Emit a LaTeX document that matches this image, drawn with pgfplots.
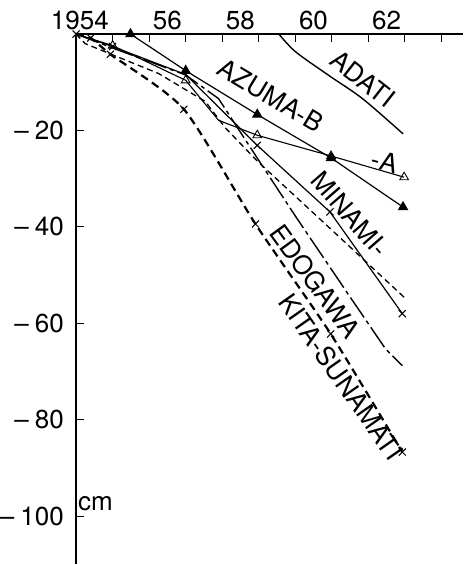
\documentclass[border=0pt]{standalone}
\usepackage{pgfplots}
\pgfplotsset{compat=1.18}
\usepackage{fontspec}
\setmainfont{TeX Gyre Heros}
\newcommand\lbl{\fontsize{26}{28}\selectfont}
\newcommand\mn{\textendash\hspace{6pt}}
\begin{document}
\begin{tikzpicture}
\begin{axis}[
  scale only axis,
  width=387pt, height=530pt,
  xmin=1954, xmax=1964.6,
  ymin=-110, ymax=0,
  axis x line=top, axis y line=left,
  axis line style={-, line width=1.3pt},
  tick align=inside,
  major tick length=8pt,
  tick style={line width=1.1pt, black},
  xtick={1954,...,1964},
  x tick label as interval,
  xticklabels={\llap{19}54,,56,,58,,60,,62,},
  ytick={-100,-80,-60,-40,-20},
  yticklabels={\mn 100,\mn 80,\mn 60,\mn 40,\mn 20},
  /pgf/number format/assume math mode=true,
  ticklabel style={font=\lbl},
  xticklabel style={inner sep=0pt, yshift=4pt},
  yticklabel style={inner sep=0pt, xshift=-12pt},
  clip=false,
]

% ADATI
\addplot[black, line width=1.4pt, smooth] coordinates {
  (1959.55,0) (1960.01,-3.7) (1960.92,-8.6) (1961.84,-13.4) (1962.95,-20.7)
};

% AZUMA-B
\addplot[black, line width=1.2pt, mark=triangle*, mark size=5pt,
  mark options={solid, fill=black}] coordinates {
  (1955.49,0) (1957.0,-7.6) (1958.96,-16.7) (1960.98,-25.7) (1962.95,-35.9)
};

% AZUMA-A
\addplot[black, line width=1.1pt, mark=triangle, mark size=5pt,
  mark options={solid, fill=white, line width=0.9pt}, mark indices={2,3,5,6,7}] coordinates {
  (1954,0) (1955.0,-2.4) (1957.0,-9.6) (1957.9,-17.9) (1958.96,-21.0) (1960.98,-25.3) (1962.98,-29.7)
};

% MINAMI (solid)
\addplot[black, line width=1.2pt, mark=x, mark size=5pt,
  mark options={solid, line width=1pt}, mark indices={2,4,5,6}] coordinates {
  (1954,0) (1955.0,-2.6) (1957.0,-8.4) (1958.96,-23.1) (1960.95,-36.9) (1962.93,-58.0)
};

% MINAMI-SUNAMATI (dashed)
\addplot[black, line width=1.3pt, dash pattern=on 6pt off 4pt] coordinates {
  (1954,0) (1954.25,-2) (1956.26,-8.2) (1957.54,-14.0) (1958.09,-19.5) (1958.98,-26.5) (1960.95,-40.3) (1962.98,-54.6)
};

% EDOGAWA
\addplot[black, line width=1.4pt, dash pattern=on 24pt off 4pt on 4pt off 4pt] coordinates {
  (1954,0) (1955,-2.9) (1957,-8.5) (1957.9,-13.4) (1959,-26.2) (1960.05,-38.3) (1961.47,-54.2) (1962.47,-65.3) (1962.93,-68.8)
};

% KITA-SUNAMATI
\addplot[black, line width=2.2pt, dash pattern=on 8pt off 5pt, smooth, tension=0.4,
  mark=x, mark size=5pt, mark options={solid, line width=1pt}] coordinates {
  (1954,0) (1954.4,-0.8) (1954.94,-4.2) (1956.95,-15.6) (1958.91,-39.4) (1960.97,-62.2) (1962.93,-86.7)
};

\node[font=\lbl, rotate=-38] at (axis cs:1961.85,-9.3) {ADATI};
\node[font=\lbl, rotate=-31] at (axis cs:1959.33,-12.8) {AZUMA-B};
\node[font=\lbl, rotate=-15] at (axis cs:1962.45,-26.4) {-A};
\node[font=\lbl, rotate=-49] at (axis cs:1961.5,-37.3) {MINAMI-};
\node[font=\lbl, rotate=-54] at (axis cs:1960.55,-51.3) {EDOGAWA};
\node[font=\lbl, rotate=-55] at (axis cs:1961.25,-71.1) {KITA-SUNAMATI};
\node[font=\lbl, anchor=south west, inner sep=0pt] at (axis cs:1954.05,-99) {cm};
% room for the year labels above the top axis line
\path[draw=none] (rel axis cs:0,1) -- ++(0pt,34pt);
\end{axis}
\end{tikzpicture}
\end{document}
